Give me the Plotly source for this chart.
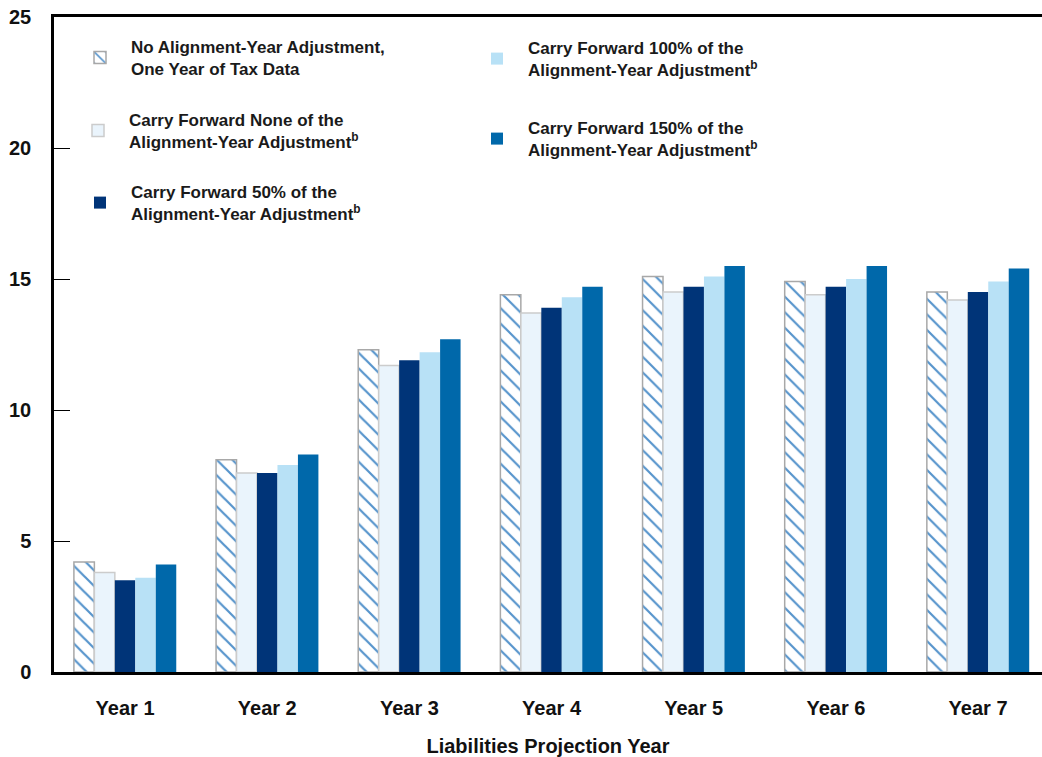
import plotly.graph_objects as go

years = ["Year 1", "Year 2", "Year 3", "Year 4", "Year 5", "Year 6", "Year 7"]
no_adjustment = [4.2, 8.1, 12.3, 14.4, 15.1, 14.9, 14.5]
cf_none = [3.8, 7.6, 11.7, 13.7, 14.5, 14.4, 14.2]
cf_50 = [3.5, 7.6, 11.9, 13.9, 14.7, 14.7, 14.5]
cf_100 = [3.6, 7.9, 12.2, 14.3, 15.1, 15.0, 14.9]
cf_150 = [4.1, 8.3, 12.7, 14.7, 15.5, 15.5, 15.4]

names = [
    "No Alignment-Year Adjustment,<br>One Year of Tax Data",
    "Carry Forward None of the<br>Alignment-Year Adjustment<sup>b</sup>",
    "Carry Forward 50% of the<br>Alignment-Year Adjustment<sup>b</sup>",
    "Carry Forward 100% of the<br>Alignment-Year Adjustment<sup>b</sup>",
    "Carry Forward 150% of the<br>Alignment-Year Adjustment<sup>b</sup>",
]

FONT = "Liberation Sans, Arial, sans-serif"

fig = go.Figure()
fig.add_bar(x=years, y=no_adjustment, name=names[0], legend="legend",
            marker=dict(color="white",
                        pattern=dict(shape="\\", fgcolor="#5694cc", bgcolor="white",
                                     size=11, solidity=0.2, fillmode="replace"),
                        line=dict(color="#a8a8a8", width=1.5)))
fig.add_bar(x=years, y=cf_none, name=names[1], legend="legend2",
            marker=dict(color="#eaf4fc", line=dict(color="#cccccc", width=1.5)))
fig.add_bar(x=years, y=cf_50, name=names[2], legend="legend3",
            marker=dict(color="#003478", line=dict(width=0)))
fig.add_bar(x=years, y=cf_100, name=names[3], legend="legend4",
            marker=dict(color="#b8e1f6", line=dict(width=0)))
fig.add_bar(x=years, y=cf_150, name=names[4], legend="legend5",
            marker=dict(color="#0068aa", line=dict(width=0)))

W, H = 1042, 757

def leg(px_left, py_center):
    return dict(xref="container", yref="container",
                x=px_left / W, y=1 - py_center / H,
                xanchor="left", yanchor="middle",
                bgcolor="rgba(0,0,0,0)", borderwidth=0,
                itemwidth=52, itemclick=False,
                font=dict(family=FONT, size=17, color="#1a1a1a", weight="bold"))

fig.update_layout(
    width=W, height=H,
    margin=dict(l=54, r=0, t=17, b=85, pad=0, autoexpand=False),
    paper_bgcolor="white", plot_bgcolor="white",
    font=dict(family=FONT, size=20, color="#111111", weight="bold"),
    barmode="group", bargap=0.28, bargroupgap=0,
    showlegend=True,
    legend=leg(69, 58),
    legend2=leg(67, 131),
    legend3=leg(69, 203),
    legend4=leg(466, 59),
    legend5=leg(466, 139),
    xaxis=dict(type="category", range=[-0.5, 6.45],
               showline=True, linecolor="black", linewidth=3, mirror=True,
               ticks="", showgrid=False, ticklabelstandoff=16, tickangle=0,
               tickfont=dict(family=FONT, size=20, color="#111111", weight="bold"),
               title=dict(text="Liabilities Projection Year", standoff=22,
                          font=dict(family=FONT, size=20, color="#111111", weight="bold"))),
    yaxis=dict(range=[0, 25], tickvals=[0, 5, 10, 15, 20, 25],
               showline=True, linecolor="black", linewidth=2.5,
               ticks="inside", ticklen=16, tickwidth=1, tickcolor="black",
               showgrid=False, zeroline=False, ticklabelstandoff=16,
               tickfont=dict(family=FONT, size=20, color="#111111", weight="bold")),
)

fig.write_html("out.html")
